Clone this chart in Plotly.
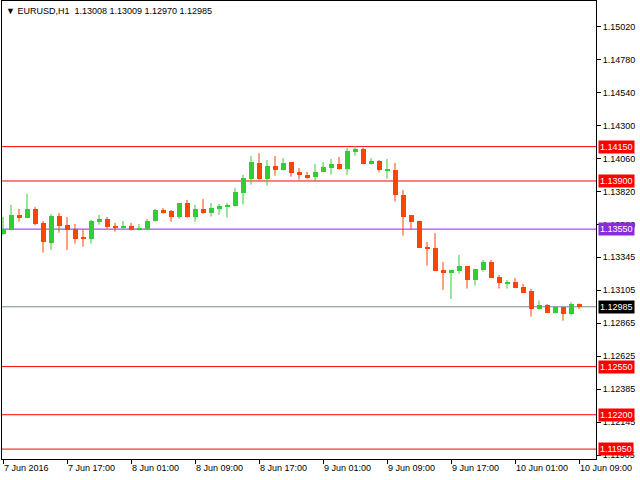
import plotly.graph_objects as go

# ---- data (EURUSD H1, 7 Jun 2016 09:00 .. 10 Jun 2016 09:00) ----
open_ = [1.13513, 1.13544, 1.13653, 1.13633, 1.13697, 1.13595, 1.13452, 1.13646, 1.13580, 1.13551,
         1.13493, 1.13478, 1.13604, 1.13624, 1.13573, 1.13561, 1.13573, 1.13544, 1.13551, 1.13611,
         1.13691, 1.13682, 1.13641, 1.13740, 1.13641, 1.13697, 1.13670, 1.13697, 1.13713, 1.13721,
         1.13815, 1.13917, 1.14031, 1.13917, 1.14009, 1.13982, 1.14038, 1.13966, 1.13944, 1.13931,
         1.13968, 1.13997, 1.14024, 1.13990, 1.14113, 1.14133, 1.14026, 1.14046, 1.13977, 1.13980,
         1.13798, 1.13653, 1.13611, 1.13422, 1.13413, 1.13253, 1.13233, 1.13248, 1.13282, 1.13183,
         1.13255, 1.13311, 1.13202, 1.13153, 1.13166, 1.13130, 1.13100, 1.12972, 1.12999, 1.12943,
         1.12984, 1.12936, 1.13008]
high = [1.13638, 1.13726, 1.13697, 1.13806, 1.13711, 1.13609, 1.13660, 1.13667, 1.13638, 1.13587,
        1.13551, 1.13617, 1.13653, 1.13638, 1.13595, 1.13609, 1.13595, 1.13587, 1.13624, 1.13697,
        1.13704, 1.13689, 1.13740, 1.13762, 1.13726, 1.13769, 1.13740, 1.13733, 1.13740, 1.13849,
        1.13944, 1.14082, 1.14104, 1.14053, 1.14082, 1.14067, 1.14038, 1.13995, 1.13966, 1.14024,
        1.14038, 1.14060, 1.14075, 1.14140, 1.14155, 1.14140, 1.14067, 1.14053, 1.14060, 1.14031,
        1.13835, 1.13653, 1.13611, 1.13457, 1.13522, 1.13311, 1.13253, 1.13362, 1.13282, 1.13260,
        1.13326, 1.13326, 1.13217, 1.13180, 1.13195, 1.13153, 1.13115, 1.13030, 1.13006, 1.12991,
        1.12984, 1.13020, 1.13009]
low = [1.13505, 1.13540, 1.13604, 1.13629, 1.13578, 1.13379, 1.13398, 1.13524, 1.13398, 1.13444,
       1.13422, 1.13444, 1.13582, 1.13553, 1.13531, 1.13553, 1.13540, 1.13540, 1.13544, 1.13604,
       1.13662, 1.13604, 1.13626, 1.13633, 1.13604, 1.13662, 1.13641, 1.13655, 1.13633, 1.13713,
       1.13728, 1.13873, 1.13910, 1.13866, 1.13939, 1.13976, 1.13931, 1.13910, 1.13917, 1.13902,
       1.13965, 1.13946, 1.13982, 1.13946, 1.14084, 1.14020, 1.14020, 1.13962, 1.13917, 1.13750,
       1.13502, 1.13544, 1.13411, 1.13284, 1.13245, 1.13108, 1.13042, 1.13226, 1.13117, 1.13139,
       1.13241, 1.13195, 1.13117, 1.13117, 1.13120, 1.13085, 1.12914, 1.12964, 1.12940, 1.12936,
       1.12884, 1.12921, 1.12970]
close = [1.13549, 1.13653, 1.13633, 1.13697, 1.13590, 1.13459, 1.13646, 1.13575, 1.13544, 1.13478,
         1.13478, 1.13609, 1.13624, 1.13568, 1.13561, 1.13573, 1.13544, 1.13558, 1.13609, 1.13689,
         1.13670, 1.13641, 1.13740, 1.13641, 1.13697, 1.13670, 1.13704, 1.13718, 1.13726, 1.13820,
         1.13922, 1.14038, 1.13917, 1.14009, 1.13982, 1.14031, 1.13960, 1.13946, 1.13924, 1.13966,
         1.14002, 1.14024, 1.13990, 1.14118, 1.14133, 1.14026, 1.14046, 1.13977, 1.13984, 1.13801,
         1.13641, 1.13604, 1.13415, 1.13408, 1.13248, 1.13233, 1.13253, 1.13282, 1.13183, 1.13260,
         1.13311, 1.13197, 1.13161, 1.13168, 1.13124, 1.13088, 1.12972, 1.12999, 1.12943, 1.12984,
         1.12936, 1.13006, 1.12985]

x_tick_index = [0, 8, 16, 24, 32, 40, 48, 56, 64, 72]
x_tick_labels = ["7 Jun 2016", "7 Jun 17:00", "8 Jun 01:00", "8 Jun 09:00", "8 Jun 17:00",
                 "9 Jun 01:00", "9 Jun 09:00", "9 Jun 17:00", "10 Jun 01:00", "10 Jun 09:00"]
y_tick_vals = [1.15020, 1.14780, 1.14540, 1.14300, 1.14060, 1.13820, 1.13580, 1.13345,
               1.13105, 1.12865, 1.12625, 1.12385, 1.12145, 1.11905]
y_tick_labels = ["1.15020", "1.14780", "1.14540", "1.14300", "1.14060", "1.13820", "1.13580",
                 "1.13345", "1.13105", "1.12865", "1.12625", "1.12385", "1.12145", "1.11905"]

level_vals = [1.14150, 1.13900, 1.13550, 1.12550, 1.12200, 1.11950]
level_colors = ["#FF0000", "#FF0000", "#8A2BE2", "#FF0000", "#FF0000", "#FF0000"]
last_price = 1.12985
title_text = "EURUSD,H1\u00a0\u00a01.13008 1.13009 1.12970 1.12985"

UP = "#32CD32"
DOWN = "#FF4500"
FONT = "Liberation Sans"

n = len(open_)
xs = list(range(n))
colors = [UP if c >= o else DOWN for o, c in zip(open_, close)]

fig = go.Figure()

# wicks
for col in (UP, DOWN):
    wx, wy = [], []
    for i in xs:
        if colors[i] == col:
            wx += [i, i, None]
            wy += [low[i], high[i], None]
    fig.add_trace(go.Scatter(x=wx, y=wy, mode="lines", line=dict(color=col, width=1),
                             hoverinfo="skip", showlegend=False))

# bodies
body_base = [min(o, c) for o, c in zip(open_, close)]
body_h = [max(abs(c - o), 0.00004) for o, c in zip(open_, close)]
fig.add_trace(go.Bar(x=xs, y=body_h, base=body_base, width=0.625,
                     marker=dict(color=colors, line=dict(width=0)),
                     hoverinfo="skip", showlegend=False))

shapes = []
annotations = []
for v, col in zip(level_vals, level_colors):
    shapes.append(dict(type="line", xref="paper", x0=0, x1=1, yref="y", y0=v, y1=v,
                       line=dict(color=col, width=1), layer="below"))
    annotations.append(dict(xref="paper", x=1, xanchor="left", xshift=2, yref="y", y=v,
                            yanchor="middle", text=f"{v:.5f}", showarrow=False,
                            bgcolor=col, borderpad=1,
                            font=dict(family=FONT, size=9, color="white")))
shapes.append(dict(type="line", xref="paper", x0=0, x1=1, yref="y", y0=last_price, y1=last_price,
                   line=dict(color="#778899", width=1), layer="below"))
annotations.append(dict(xref="paper", x=1, xanchor="left", xshift=2, yref="y", y=last_price,
                        yanchor="middle", text=f"{last_price:.5f}", showarrow=False,
                        bgcolor="black", borderpad=1,
                        font=dict(family=FONT, size=9, color="white")))
annotations.append(dict(xref="paper", x=0, xanchor="left", xshift=2, yref="paper", y=1,
                        yanchor="top", yshift=-3, text="\u25bc " + title_text, showarrow=False,
                        bgcolor="white",
                        font=dict(family=FONT, size=9, color="black")))

fig.update_layout(
    width=640, height=480,
    margin=dict(l=2, r=44, t=1, b=21),
    paper_bgcolor="white", plot_bgcolor="white",
    barmode="overlay", bargap=0,
    showlegend=False,
    shapes=shapes, annotations=annotations,
    font=dict(family=FONT, size=9, color="black"),
    xaxis=dict(range=[-0.125, 74.125], showgrid=False, zeroline=False,
               showline=True, linecolor="black", linewidth=1, mirror=True,
               ticks="outside", ticklen=4, tickcolor="black", tickwidth=1,
               tickvals=x_tick_index, ticktext=x_tick_labels,
               ticklabelposition="outside right",
               tickfont=dict(family=FONT, size=9, color="black")),
    yaxis=dict(range=[1.11878, 1.15209], side="right", showgrid=False, zeroline=False,
               showline=True, linecolor="black", linewidth=1, mirror=True,
               ticks="outside", ticklen=4, tickcolor="black", tickwidth=1,
               tickvals=y_tick_vals, ticktext=y_tick_labels,
               tickfont=dict(family=FONT, size=9, color="black")),
)

fig.write_html("out.html")
